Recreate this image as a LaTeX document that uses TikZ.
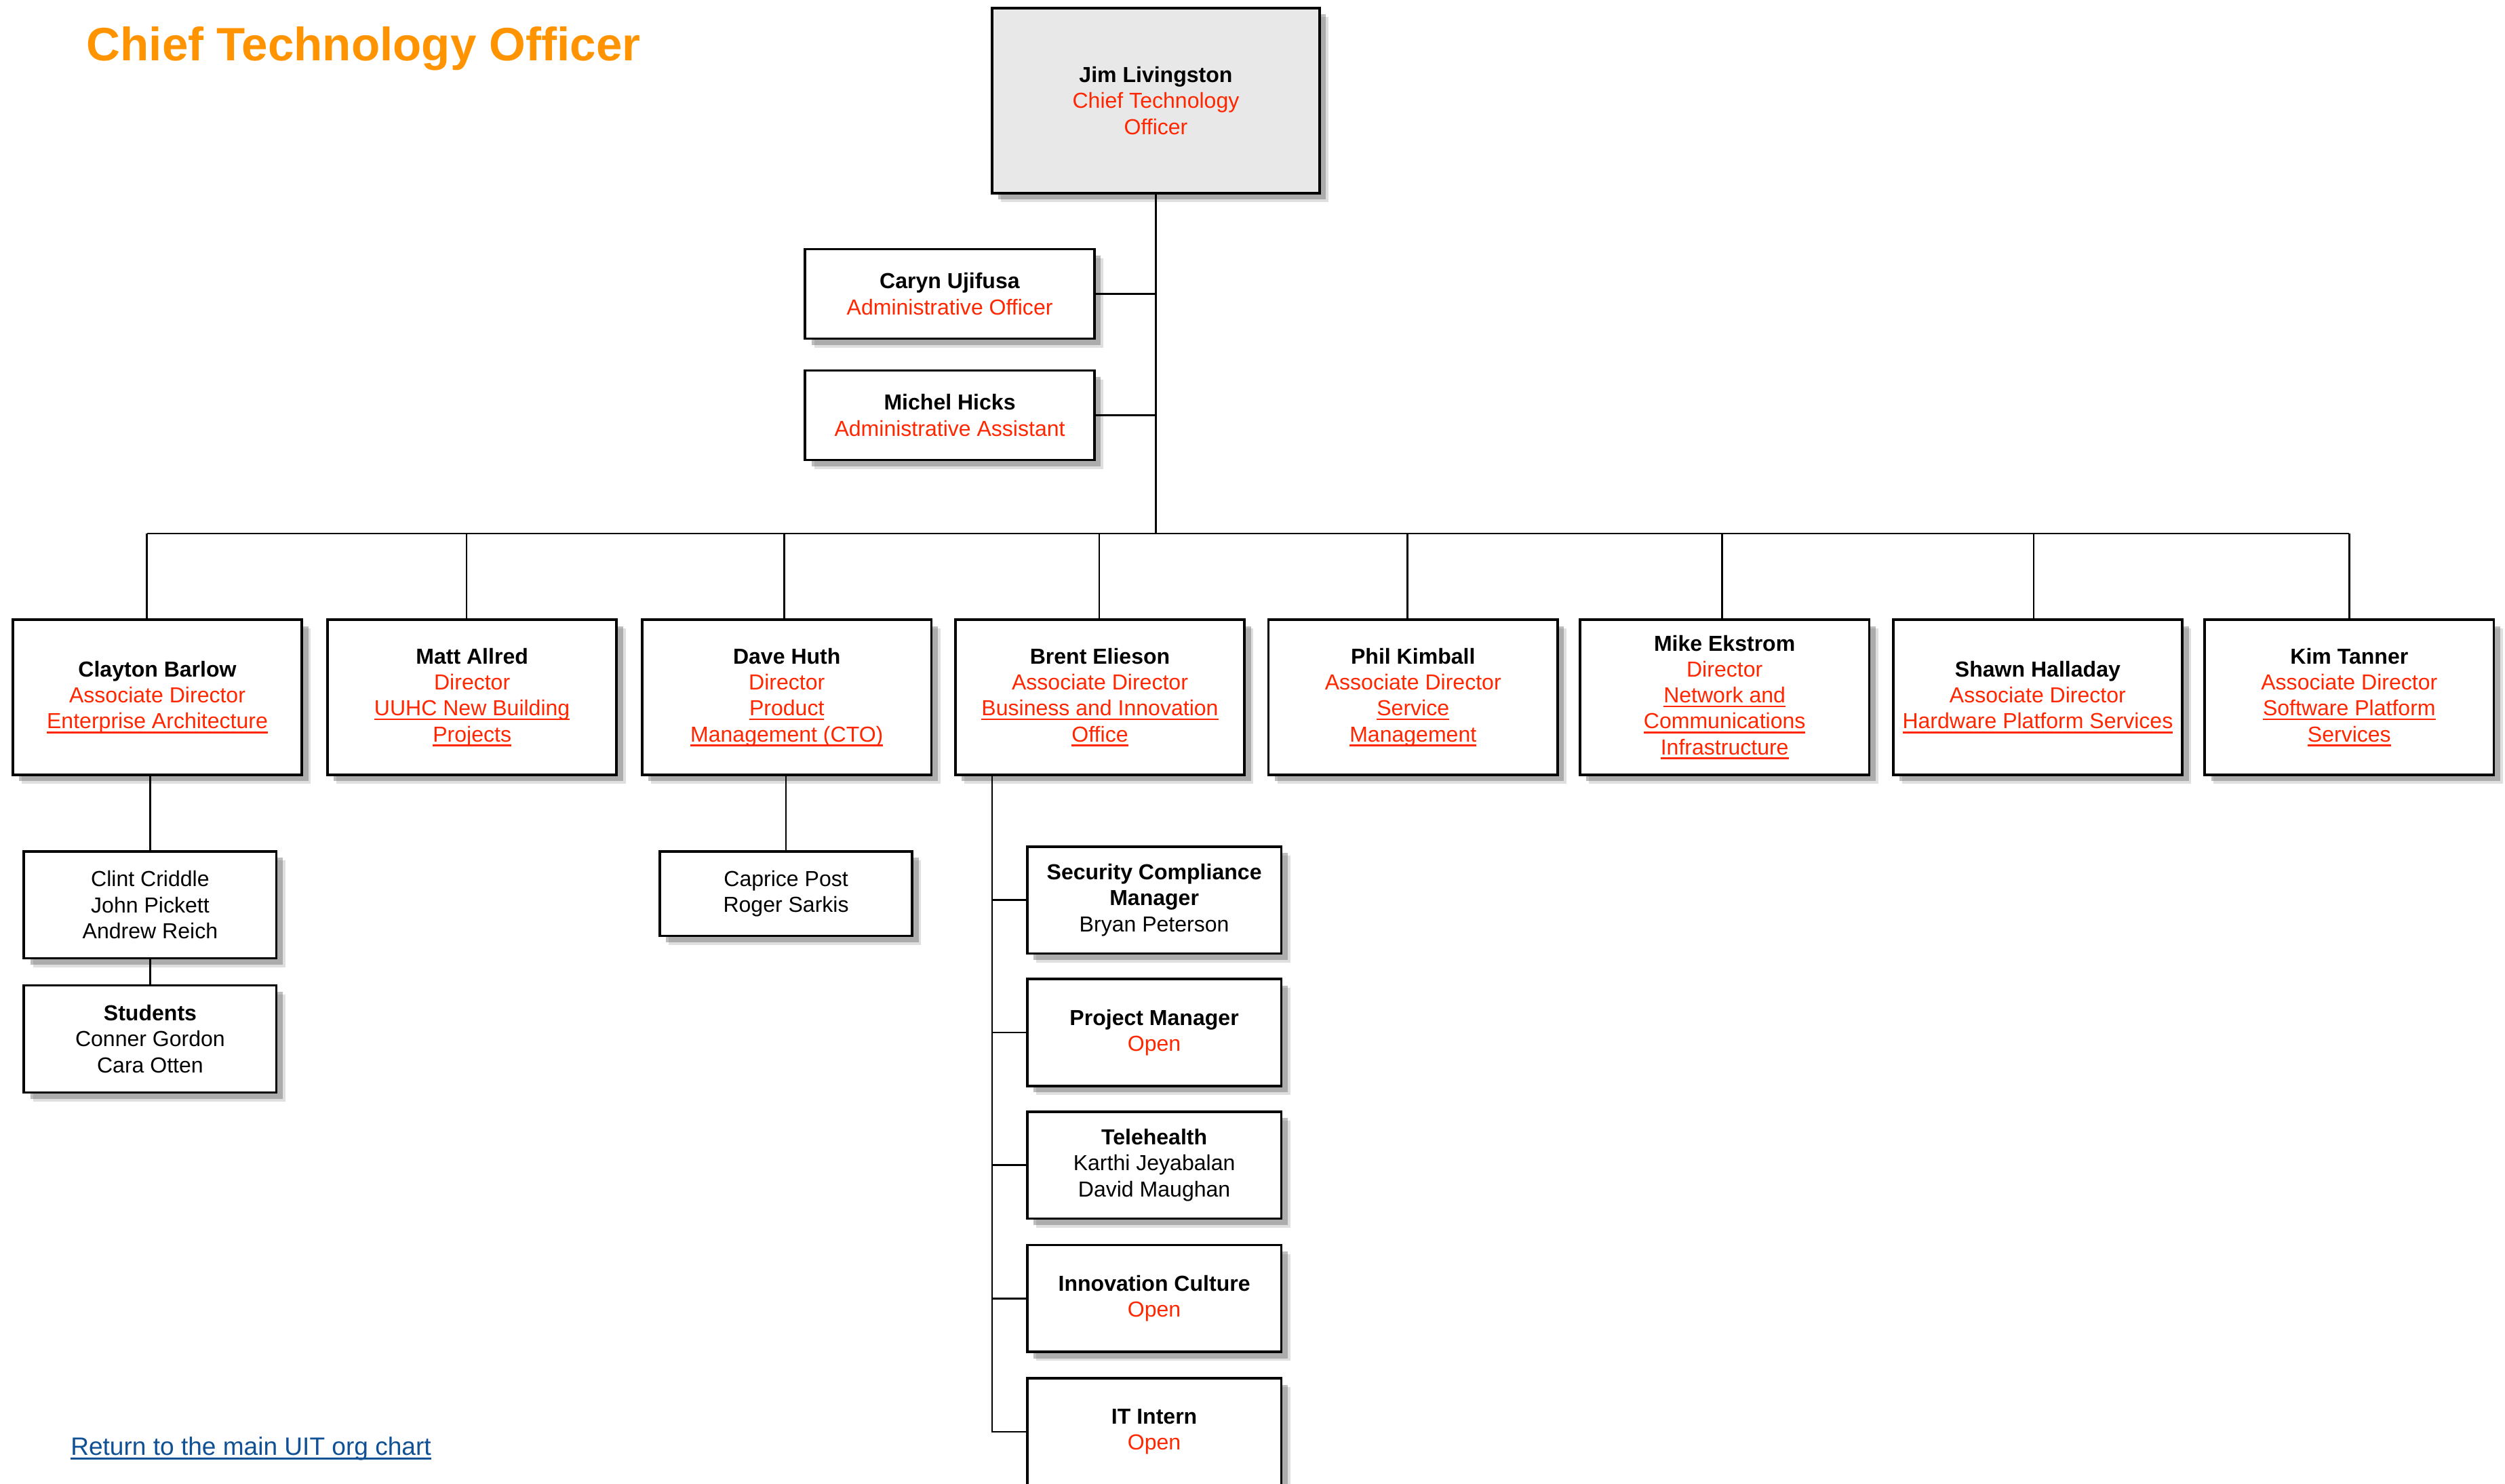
\documentclass[tikz,border=0pt]{standalone}
\usepackage{fontspec}
\setmainfont{Liberation Sans}
\usetikzlibrary{shadows}
\definecolor{tred}{RGB}{255,38,0}
\definecolor{torange}{RGB}{255,148,0}
\definecolor{tblue}{RGB}{16,80,148}
\definecolor{ctogray}{RGB}{232,232,232}
\definecolor{shadowgray}{RGB}{110,110,110}
\newcommand\myul[1]{\leavevmode\setbox0\hbox{#1}\rlap{\vrule width\wd0 height -1.3pt depth 2.1pt}\box0}
\newcommand\ttl[1]{\textcolor{tred}{#1}}
\newcommand\lnk[1]{\textcolor{tred}{\myul{#1}}}
\tikzset{
  orgbox/.style={draw=black, line width=1.2pt, fill=white, align=center, inner sep=2pt,
    font=\fontsize{10.2}{12.2}\selectfont,
    drop shadow={shadow xshift=4.2pt, shadow yshift=-4.2pt, fill=shadowgray, opacity=0.22},
    drop shadow={shadow xshift=3pt, shadow yshift=-3pt, fill=shadowgray, opacity=0.45}},
  rowbox/.style={orgbox, minimum width=135.75pt, minimum height=72.75pt},
  adminbox/.style={orgbox, minimum width=135.75pt, minimum height=42pt},
  subbox/.style={orgbox, minimum width=118.5pt, minimum height=50.25pt},
  teambox/.style={orgbox, minimum width=119.25pt, minimum height=50.25pt},
  conn/.style={draw=black, line width=0.85pt}
}
\begin{document}
\begin{tikzpicture}[x=0.75pt,y=-0.75pt]
\useasboundingbox (0,0) rectangle (1568,929);
\fill[white] (0,0) rectangle (1568,929);
\begin{scope}
\clip (0,0) rectangle (1568,929);

% title and link
\node[anchor=base west, text=torange, font=\bfseries\fontsize{22}{26}\selectfont, inner sep=0] (title) at (54,38) {Chief Technology Officer};
\node[anchor=base west, text=tblue, font=\fontsize{11.8}{14}\selectfont, inner sep=0] (back) at (44,911) {\myul{Return to the main UIT org chart}};

% top
\node[orgbox, fill=ctogray, minimum width=153.75pt, minimum height=87pt] (cto) at (723.5,63)
  {\textbf{Jim Livingston}\\\ttl{Chief Technology}\\\ttl{Officer}};
\node[adminbox] (caryn) at (594.5,184) {\textbf{Caryn Ujifusa}\\\ttl{Administrative Officer}};
\node[adminbox] (michel) at (594.5,260) {\textbf{Michel Hicks}\\\ttl{Administrative Assistant}};

% row
\node[rowbox] (clayton) at (98.5,436.5) {\textbf{Clayton Barlow}\\\ttl{Associate Director}\\\lnk{Enterprise Architecture}};
\node[rowbox] (matt) at (295.5,436.5) {\textbf{Matt Allred}\\\ttl{Director}\\\lnk{UUHC New Building}\\\lnk{Projects}};
\node[rowbox] (dave) at (492.5,436.5) {\textbf{Dave Huth}\\\ttl{Director}\\\lnk{Product}\\\lnk{Management (CTO)}};
\node[rowbox] (brent) at (688.5,436.5) {\textbf{Brent Elieson}\\\ttl{Associate Director}\\\lnk{Business and Innovation}\\\lnk{Office}};
\node[rowbox] (phil) at (884.5,436.5) {\textbf{Phil Kimball}\\\ttl{Associate Director}\\\lnk{Service}\\\lnk{Management}};
\node[rowbox] (mike) at (1079.5,436.5) {\textbf{Mike Ekstrom}\\\ttl{Director}\\\lnk{Network and}\\\lnk{Communications}\\\lnk{Infrastructure}};
\node[rowbox] (shawn) at (1275.5,436.5) {\textbf{Shawn Halladay}\\\ttl{Associate Director}\\\lnk{Hardware Platform Services}};
\node[rowbox] (kim) at (1470.5,436.5) {\textbf{Kim Tanner}\\\ttl{Associate Director}\\\lnk{Software Platform}\\\lnk{Services}};

% sub boxes
\node[subbox] (clint) at (94,566.5) {Clint Criddle\\John Pickett\\Andrew Reich};
\node[subbox] (students) at (94,650.5) {\textbf{Students}\\Conner Gordon\\Cara Otten};
\node[subbox, minimum height=39.75pt] (caprice) at (492,559.5) {Caprice Post\\Roger Sarkis};

\node[teambox] (sec) at (722.5,563.5) {\textbf{Security Compliance}\\\textbf{Manager}\\Bryan Peterson};
\node[teambox] (pm) at (722.5,646.5) {\textbf{Project Manager}\\\ttl{Open}};
\node[teambox] (tele) at (722.5,729.5) {\textbf{Telehealth}\\Karthi Jeyabalan\\David Maughan};
\node[teambox] (innov) at (722.5,813) {\textbf{Innovation Culture}\\\ttl{Open}};
\node[teambox] (intern) at (722.5,896.5) {\textbf{IT Intern}\\\ttl{Open}};

% connectors
\coordinate (bus) at (723,334);
\coordinate (busL) at (92,334);
\coordinate (busR) at (1470.5,334);
\draw[conn] (cto.south) -- (cto.south |- bus);
\draw[conn] (caryn.east) -- (caryn.east -| cto.south);
\draw[conn] (michel.east) -- (michel.east -| cto.south);
\draw[conn] (busL) -- (busR);
\foreach \n/\d in {clayton/-6.5, matt/-3.5, dave/-1.5, brent/-0.5, phil/-3.5, mike/-1.5, shawn/-2.5, kim/0}
  \draw[conn] ([xshift=\d*0.75pt]\n.north) -- ([xshift=\d*0.75pt]\n.north |- busL);
\draw[conn] (clint.north) -- (clint.north |- clayton.south);
\draw[conn] (clint.south) -- (students.north);
\draw[conn] (caprice.north) -- (caprice.north |- dave.south);
\coordinate (bt) at ([xshift=-50.6pt]brent.south);
\draw[conn] (bt) |- (intern.west);
\foreach \n in {sec,pm,tele,innov}
  \draw[conn] (\n.west) -- (\n.west -| bt);
\end{scope}
\end{tikzpicture}
\end{document}
